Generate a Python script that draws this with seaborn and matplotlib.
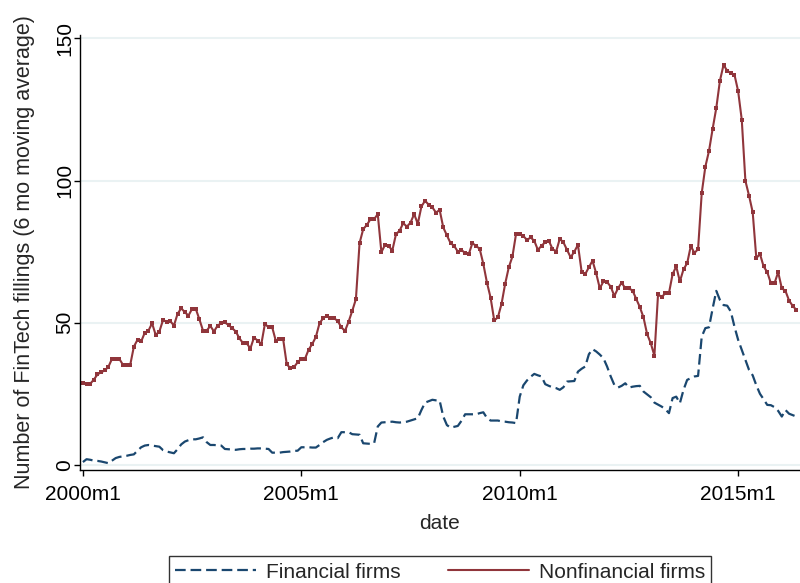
import numpy as np
import pandas as pd
import matplotlib
matplotlib.use("Agg")
import matplotlib.pyplot as plt
from matplotlib.lines import Line2D
import seaborn as sns

# Monthly FinTech filings, 6-month moving average, 2000m1 onward
nonfinancial = [
    28.7, 28.3, 28.5, 30.0, 31.8, 32.6, 33.2, 34.5, 37.3, 37.3,
    37.3, 35.2, 35.0, 35.2, 41.6, 44.0, 43.4, 46.5, 47.2, 49.8,
    45.7, 46.9, 50.9, 50.4, 50.6, 49.0, 53.1, 55.1, 53.7, 52.5,
    54.9, 54.9, 51.2, 47.2, 47.2, 48.9, 46.9, 49.0, 49.8, 50.1,
    49.2, 48.1, 46.9, 44.5, 42.8, 42.8, 40.9, 44.8, 43.7, 42.4,
    49.6, 48.4, 48.4, 43.6, 44.3, 44.3, 35.4, 34.0, 34.4, 36.1,
    37.3, 37.3, 40.5, 42.5, 45.0, 49.8, 51.6, 52.4, 51.6, 51.6,
    50.6, 48.4, 47.1, 50.4, 54.2, 58.3, 78.0, 82.9, 84.4, 86.4,
    86.4, 88.2, 74.8, 77.4, 77.0, 75.4, 81.1, 82.4, 85.0, 83.8,
    85.2, 88.2, 84.8, 90.9, 92.9, 91.5, 90.6, 88.7, 89.7, 83.5,
    80.7, 78.0, 77.0, 75.0, 75.6, 74.5, 74.1, 78.0, 77.0, 76.0,
    70.7, 64.1, 58.8, 50.8, 51.9, 56.6, 63.7, 69.5, 73.3, 81.3,
    81.3, 80.5, 79.1, 80.0, 78.8, 75.6, 77.1, 78.3, 78.8, 76.0,
    75.0, 79.5, 78.3, 75.6, 73.0, 75.0, 77.4, 68.0, 67.1, 69.5,
    71.8, 67.4, 62.1, 64.5, 64.3, 62.7, 59.4, 62.1, 64.1, 62.1,
    62.1, 61.3, 58.4, 55.5, 51.9, 46.0, 42.8, 38.4, 60.0, 59.0,
    60.4, 60.4, 67.1, 69.8, 64.5, 68.8, 70.9, 77.0, 74.5, 75.9,
    95.6, 104.9, 110.4, 118.2, 125.5, 135.1, 140.7, 138.6, 137.8, 137.2,
    131.5, 121.4, 99.9, 94.7, 88.9, 72.7, 74.2, 69.8, 67.8, 63.9,
    63.9, 67.8, 62.1, 61.2, 57.8, 55.9, 54.5,
]

financial = [
    1.0, 2.0, 1.8, 1.5, 1.4, 1.2, 0.9, 0.6, 1.5, 2.4,
    2.8, 3.0, 3.2, 3.5, 3.7, 5.0, 6.2, 6.8, 7.0, 6.8,
    6.6, 6.4, 5.2, 4.7, 4.4, 4.1, 5.5, 7.2, 8.2, 8.7,
    9.0, 9.0, 9.3, 9.7, 8.0, 7.0, 7.0, 6.9, 6.8, 5.6,
    5.5, 5.4, 5.3, 5.5, 5.6, 5.6, 5.7, 5.7, 5.8, 5.8,
    5.7, 5.6, 4.3, 4.3, 4.3, 4.5, 4.6, 4.7, 4.9, 5.0,
    6.2, 6.2, 6.2, 6.1, 6.1, 7.0, 8.0, 8.8, 9.3, 9.7,
    9.4, 11.5, 11.5, 11.5, 10.8, 10.7, 10.6, 7.6, 7.5, 7.4,
    7.6, 13.5, 14.9, 15.0, 15.1, 15.2, 15.0, 14.9, 15.0, 15.2,
    15.6, 16.0, 16.4, 19.3, 21.9, 22.4, 22.9, 22.7, 22.6, 17.0,
    14.0, 13.1, 13.4, 13.7, 15.5, 17.8, 17.8, 17.8, 17.8, 18.2,
    18.5, 16.5, 15.6, 15.6, 15.6, 15.3, 15.2, 15.0, 14.9, 14.7,
    24.0, 28.0, 29.7, 31.0, 32.0, 31.5, 31.1, 28.4, 27.8, 27.3,
    27.0, 26.4, 27.3, 29.3, 29.4, 29.5, 32.8, 33.8, 34.6, 38.9,
    40.7, 39.9, 38.8, 37.5, 34.6, 31.1, 28.1, 27.2, 27.8, 28.7,
    27.2, 27.5, 27.7, 27.8, 25.8, 24.8, 23.8, 21.9, 21.2, 20.5,
    19.6, 18.2, 23.5, 24.0, 21.7, 26.4, 29.9, 30.5, 31.1, 31.3,
    45.1, 48.1, 48.4, 55.0, 61.2, 58.0, 56.2, 56.0, 53.9, 48.6,
    44.0, 40.5, 36.9, 33.4, 31.5, 28.0, 25.0, 23.1, 21.1, 21.0,
    20.3, 19.0, 17.0, 19.3, 18.0, 17.5, 17.0,
]

series_names = ["Financial firms", "Nonfinancial firms"]
x_tick_months = [0, 60, 120, 180]
x_tick_labels = ["2000m1", "2005m1", "2010m1", "2015m1"]
y_ticks = [0, 50, 100, 150]

NAVY = "#1A476F"
MAROON = "#90353B"
GRID = "#EAF2F3"

df = pd.DataFrame({
    "month": np.arange(len(nonfinancial)),
    series_names[0]: financial,
    series_names[1]: nonfinancial,
})

sns.set_theme(style="white")
plt.rcParams["font.family"] = ["Liberation Sans", "DejaVu Sans"]
plt.rcParams["font.size"] = 15

fig = plt.figure(figsize=(8, 5.83), dpi=100)
ax = fig.add_axes([0.1, 0.194, 0.9, 0.746])

for y in y_ticks:
    ax.axhline(y, color=GRID, lw=1.5, zorder=0)

sns.lineplot(data=df, x="month", y=series_names[0], ax=ax, color=NAVY,
             lw=1.6, linestyle=(0, (4.8, 2.2)), legend=False)
sns.lineplot(data=df, x="month", y=series_names[1], ax=ax, color=MAROON,
             lw=1.5, marker="s", markersize=2.2, markeredgewidth=0,
             legend=False)

ax.set_xlim(-0.8, 197)
ax.set_ylim(-1.76, 151.2)
ax.set_xticks(x_tick_months)
ax.set_xticklabels(x_tick_labels, fontsize=15)
ax.set_yticks(y_ticks)
ax.set_yticklabels([str(v) for v in y_ticks], rotation=90, va="center",
                   fontsize=15)
ax.tick_params(axis="both", direction="out", length=4, width=1,
               color="black", labelcolor="black", bottom=True, left=True)
ax.tick_params(axis="x", pad=7)
ax.tick_params(axis="y", pad=0)

for side in ["top", "right"]:
    ax.spines[side].set_visible(False)
for side in ["left", "bottom"]:
    ax.spines[side].set_color("black")
    ax.spines[side].set_linewidth(1)

ax.set_xlabel("date", fontsize=15, labelpad=7)
ax.set_ylabel("Number of FinTech fillings (6 mo moving average)",
              fontsize=15.5, labelpad=15)

handles = [
    Line2D([], [], color=NAVY, lw=1.6, linestyle=(0, (4.8, 2.2))),
    Line2D([], [], color=MAROON, lw=1.5),
]
leg = fig.legend(handles, series_names, loc="upper center",
                 bbox_to_anchor=(0.55, 1 - 546 / 583), ncol=2,
                 frameon=True, fancybox=False, handlelength=3.9,
                 handletextpad=0.45, columnspacing=2.3, borderpad=0.3,
                 fontsize=15)
leg.get_frame().set_edgecolor("black")
leg.get_frame().set_linewidth(1)

fig.savefig("out.png", dpi=100, facecolor="white")
